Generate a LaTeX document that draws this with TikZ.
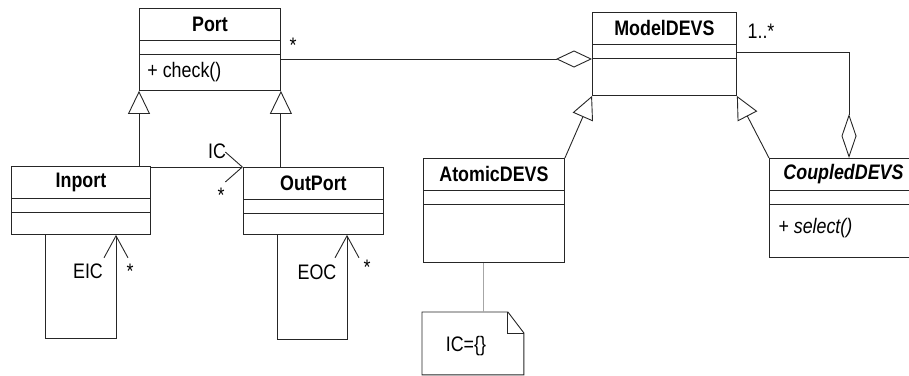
\documentclass[tikz,border=0pt]{standalone}
\usepackage{fontspec}
\setmainfont[FakeStretch=0.85]{Liberation Sans}
\usetikzlibrary{arrows.meta, calc}

\begin{document}
\begin{tikzpicture}[
  x=1pt, y=-1pt,
  font=\fontsize{21}{24}\selectfont,
  line width=0.9pt, draw=black!85,
  classe/.style={draw, anchor=north west, inner sep=0pt},
  titolo/.style={font=\fontsize{21}{24}\selectfont\bfseries},
  metodo/.style={anchor=west, inner sep=0pt},
  eredita/.style={-{Triangle[open, length=23pt, width=22pt]}},
  aggrega/.style={-{Diamond[open, length=36pt, width=17pt]}},
  aggregav/.style={-{Diamond[open, length=44pt, width=15pt]}},
  naviga/.style={-{Straight Barb[length=17pt, width=30pt]}},
  navigacorta/.style={-{Straight Barb[length=22pt, width=24pt]}},
  molteplicita/.style={inner sep=0pt}
]
\useasboundingbox (0,0) rectangle (909,375);

% ---- classi ---------------------------------------------------------
\foreach \n/\x/\y/\w/\h/\t in {port/139/8/141/82/Port,
    inport/11/166/139/68/Inport, outport/243/167/140/67/OutPort,
    modeldevs/592/12/144/83/ModelDEVS, atomic/423/158/141/104/AtomicDEVS,
    coupled/769/158/148/99/{\itshape CoupledDEVS}} {
  \node[classe, minimum width=\w pt, minimum height=\h pt] (\n) at (\x,\y) {};
  \node[titolo] (\n-nome) at ($(\n.north)+(0,16)$) {\t};
  \draw (\n.north west) ++(0,32) -- ++(\w,0) (\n.north west) ++(0,46) -- ++(\w,0);
}
\node[metodo] (port-op) at ($(port.north west)+(8,64)$) {+ check()};
\node[metodo, font=\fontsize{21}{24}\selectfont\itshape] (coupled-op)
  at ($(coupled.north west)+(9,70)$) {+ select()};

% ---- nota -----------------------------------------------------------
\node[minimum width=101pt, minimum height=62pt, anchor=north west, inner sep=0pt]
  (nota) at (422,312) {};
\draw (nota.north west) -- ($(nota.north east)+(-16,0)$) -- ($(nota.north east)+(0,21)$)
  -- (nota.south east) -- (nota.south west) -- cycle;
\draw ($(nota.north east)+(-16,0)$) -- ++(0,21) -- ++(16,0);
\node (nota-testo) at ($(nota.center)+(-7,3)$) {IC=\{\}};
\coordinate (ancora) at ($(nota.north)+(10,0)$);
\draw[black!35, line width=0.6pt] (ancora) -- (ancora |- atomic.south);

% ---- generalizzazioni -----------------------------------------------
\draw[eredita] (port.south west |- inport.north) -- (port.south west);
\draw[eredita] (port.south east |- outport.north) -- (port.south east);
\draw[eredita] (atomic.north east) -- (modeldevs.south west);
\draw[eredita] (coupled.north west) -- (modeldevs.south east);

% ---- associazioni ---------------------------------------------------
\coordinate (attacco) at ($(modeldevs.north west)+(0,47)$);
\draw[aggrega] (port.east |- attacco) -- (attacco);
\draw[aggregav] ($(modeldevs.north east)+(0,40)$) -| ($(coupled.north west)+(80,0)$);
\draw[naviga] (inport.east |- outport.north) -- (outport.north west);
\draw[navigacorta] ($(inport.south west)+(34,0)$) -- ++(0,104) -| ($(inport.south west)+(105,0)$);
\draw[navigacorta] ($(outport.south west)+(34,0)$) -- ++(0,105) -| ($(outport.south west)+(104,0)$);

% ---- etichette ------------------------------------------------------
\node (ic) at (217,151) {IC};
\node[molteplicita] (ic-molt) at (221,195) {*};
\node[molteplicita] (port-molt) at (293,45) {*};
\node (modeldevs-molt) at (761,31) {1..*};
\node (eic) at (88,271) {EIC};
\node[molteplicita] (eic-molt) at (130,271) {*};
\node (eoc) at (317,272) {EOC};
\node[molteplicita] (eoc-molt) at (367,267) {*};

\end{tikzpicture}
\end{document}
